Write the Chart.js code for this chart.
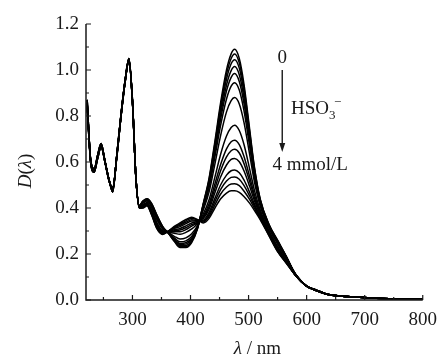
<!DOCTYPE html>
<html>
<head>
<meta charset="utf-8">
<script src="https://cdn.jsdelivr.net/npm/chart.js@4"></script>
<style>
  body { margin: 0; background: #fff; }
  canvas { display: block; }
</style>
</head>
<body>
<canvas id="chart" width="446" height="358"></canvas>
<script>
// =============================
// DATA
// =============================

// wavelength grid, nm
const wavelengths = [222, 228, 234, 240, 246, 253, 260, 266, 273, 280, 287, 294, 300, 306, 312, 318, 325, 333, 342, 352, 362, 372, 382, 392, 402, 412, 422, 432, 442, 452, 462, 470, 476, 484, 492, 502, 510, 520, 535, 550, 565, 580, 600, 615, 635, 670, 720, 800];

// absorbance D(λ), from 0 mmol/L HSO3- (top) down to 4 mmol/L
const d00 = [0.87, 0.61, 0.57, 0.63, 0.68, 0.60, 0.52, 0.47, 0.63, 0.80, 0.95, 1.05, 0.87, 0.53, 0.41, 0.43, 0.44, 0.42, 0.37, 0.32, 0.29, 0.255, 0.228, 0.228, 0.25, 0.31, 0.42, 0.53, 0.69, 0.86, 1.00, 1.07, 1.09, 1.05, 0.94, 0.74, 0.58, 0.44, 0.33, 0.26, 0.19, 0.115, 0.06, 0.045, 0.025, 0.015, 0.008, 0.003];
const d01 = [0.87, 0.61, 0.57, 0.63, 0.68, 0.60, 0.52, 0.47, 0.63, 0.80, 0.95, 1.05, 0.87, 0.53, 0.41, 0.43, 0.44, 0.418, 0.368, 0.319, 0.29, 0.257, 0.232, 0.232, 0.254, 0.311, 0.417, 0.524, 0.68, 0.846, 0.982, 1.05, 1.07, 1.031, 0.924, 0.729, 0.574, 0.437, 0.328, 0.258, 0.189, 0.115, 0.06, 0.045, 0.025, 0.015, 0.008, 0.003];
const d02 = [0.87, 0.61, 0.57, 0.63, 0.68, 0.60, 0.52, 0.47, 0.63, 0.80, 0.95, 1.05, 0.87, 0.53, 0.41, 0.428, 0.438, 0.416, 0.366, 0.317, 0.291, 0.26, 0.236, 0.237, 0.258, 0.313, 0.414, 0.517, 0.669, 0.829, 0.961, 1.027, 1.045, 1.008, 0.904, 0.717, 0.566, 0.433, 0.326, 0.256, 0.188, 0.115, 0.06, 0.045, 0.025, 0.015, 0.008, 0.003];
const d03 = [0.87, 0.61, 0.57, 0.63, 0.68, 0.60, 0.52, 0.47, 0.63, 0.80, 0.95, 1.05, 0.87, 0.53, 0.41, 0.426, 0.436, 0.414, 0.363, 0.316, 0.291, 0.263, 0.241, 0.243, 0.263, 0.315, 0.41, 0.509, 0.655, 0.809, 0.935, 0.997, 1.015, 0.979, 0.88, 0.701, 0.557, 0.429, 0.324, 0.254, 0.186, 0.115, 0.06, 0.045, 0.025, 0.015, 0.008, 0.003];
const d04 = [0.855, 0.605, 0.562, 0.622, 0.672, 0.598, 0.518, 0.48, 0.625, 0.795, 0.945, 1.045, 0.865, 0.53, 0.405, 0.425, 0.435, 0.411, 0.36, 0.314, 0.292, 0.266, 0.246, 0.249, 0.269, 0.317, 0.405, 0.50, 0.64, 0.788, 0.909, 0.968, 0.985, 0.95, 0.856, 0.685, 0.547, 0.425, 0.321, 0.251, 0.185, 0.115, 0.06, 0.045, 0.025, 0.015, 0.008, 0.003];
const d05 = [0.855, 0.605, 0.562, 0.622, 0.672, 0.598, 0.518, 0.48, 0.625, 0.795, 0.945, 1.045, 0.865, 0.53, 0.405, 0.423, 0.433, 0.408, 0.356, 0.312, 0.292, 0.27, 0.253, 0.257, 0.276, 0.319, 0.40, 0.489, 0.622, 0.761, 0.874, 0.93, 0.945, 0.913, 0.824, 0.665, 0.535, 0.419, 0.318, 0.248, 0.183, 0.115, 0.06, 0.045, 0.025, 0.015, 0.008, 0.003];
const d06 = [0.855, 0.605, 0.562, 0.622, 0.672, 0.598, 0.518, 0.48, 0.625, 0.795, 0.945, 1.045, 0.865, 0.53, 0.405, 0.42, 0.43, 0.403, 0.35, 0.308, 0.293, 0.277, 0.265, 0.27, 0.288, 0.324, 0.391, 0.47, 0.591, 0.717, 0.818, 0.867, 0.88, 0.852, 0.773, 0.631, 0.515, 0.409, 0.313, 0.243, 0.18, 0.115, 0.06, 0.045, 0.025, 0.015, 0.008, 0.003];
const d07 = [0.855, 0.605, 0.562, 0.622, 0.672, 0.598, 0.518, 0.48, 0.625, 0.795, 0.945, 1.045, 0.865, 0.53, 0.405, 0.414, 0.424, 0.393, 0.338, 0.301, 0.295, 0.29, 0.286, 0.294, 0.309, 0.332, 0.374, 0.436, 0.534, 0.635, 0.713, 0.75, 0.76, 0.737, 0.677, 0.568, 0.478, 0.392, 0.303, 0.233, 0.174, 0.115, 0.06, 0.045, 0.025, 0.015, 0.008, 0.003];
const d08 = [0.855, 0.605, 0.562, 0.622, 0.672, 0.598, 0.518, 0.48, 0.625, 0.795, 0.945, 1.045, 0.865, 0.53, 0.405, 0.411, 0.421, 0.388, 0.331, 0.298, 0.296, 0.297, 0.297, 0.306, 0.321, 0.336, 0.365, 0.418, 0.504, 0.59, 0.657, 0.688, 0.695, 0.676, 0.625, 0.535, 0.458, 0.382, 0.298, 0.228, 0.171, 0.11, 0.06, 0.042, 0.025, 0.015, 0.008, 0.003];
const d09 = [0.855, 0.605, 0.562, 0.622, 0.672, 0.598, 0.518, 0.48, 0.625, 0.795, 0.945, 1.045, 0.865, 0.53, 0.405, 0.409, 0.419, 0.385, 0.328, 0.295, 0.297, 0.301, 0.304, 0.314, 0.328, 0.338, 0.36, 0.406, 0.485, 0.563, 0.622, 0.649, 0.655, 0.639, 0.594, 0.514, 0.446, 0.376, 0.295, 0.225, 0.169, 0.11, 0.06, 0.042, 0.025, 0.015, 0.008, 0.003];
const d10 = [0.855, 0.605, 0.562, 0.622, 0.672, 0.598, 0.518, 0.48, 0.625, 0.795, 0.945, 1.045, 0.865, 0.53, 0.405, 0.407, 0.417, 0.381, 0.324, 0.293, 0.298, 0.305, 0.311, 0.322, 0.335, 0.341, 0.354, 0.395, 0.466, 0.536, 0.587, 0.611, 0.615, 0.601, 0.562, 0.493, 0.433, 0.371, 0.291, 0.221, 0.167, 0.11, 0.06, 0.042, 0.025, 0.015, 0.008, 0.003];
const d11 = [0.84, 0.60, 0.555, 0.615, 0.665, 0.595, 0.515, 0.49, 0.62, 0.79, 0.94, 1.04, 0.86, 0.53, 0.40, 0.404, 0.414, 0.377, 0.319, 0.29, 0.299, 0.311, 0.319, 0.332, 0.344, 0.344, 0.347, 0.381, 0.442, 0.501, 0.543, 0.562, 0.565, 0.553, 0.522, 0.467, 0.418, 0.363, 0.287, 0.217, 0.164, 0.11, 0.06, 0.042, 0.025, 0.015, 0.008, 0.003];
const d12 = [0.84, 0.60, 0.555, 0.615, 0.665, 0.595, 0.515, 0.49, 0.62, 0.79, 0.94, 1.04, 0.86, 0.53, 0.40, 0.403, 0.413, 0.375, 0.316, 0.288, 0.299, 0.314, 0.325, 0.338, 0.349, 0.346, 0.343, 0.372, 0.428, 0.481, 0.517, 0.533, 0.535, 0.525, 0.498, 0.451, 0.409, 0.359, 0.285, 0.215, 0.163, 0.11, 0.06, 0.042, 0.025, 0.015, 0.008, 0.003];
const d13 = [0.84, 0.60, 0.555, 0.615, 0.665, 0.595, 0.515, 0.49, 0.62, 0.79, 0.94, 1.04, 0.86, 0.53, 0.40, 0.401, 0.411, 0.372, 0.313, 0.287, 0.30, 0.317, 0.33, 0.344, 0.355, 0.348, 0.339, 0.364, 0.414, 0.461, 0.491, 0.504, 0.505, 0.497, 0.474, 0.436, 0.399, 0.354, 0.282, 0.212, 0.161, 0.11, 0.06, 0.042, 0.025, 0.015, 0.008, 0.003];
const d14 = [0.84, 0.60, 0.555, 0.615, 0.665, 0.595, 0.515, 0.49, 0.62, 0.79, 0.94, 1.04, 0.86, 0.53, 0.40, 0.40, 0.41, 0.37, 0.31, 0.285, 0.30, 0.32, 0.335, 0.35, 0.36, 0.35, 0.335, 0.355, 0.40, 0.44, 0.465, 0.475, 0.475, 0.468, 0.45, 0.42, 0.39, 0.35, 0.28, 0.21, 0.16, 0.11, 0.06, 0.042, 0.025, 0.015, 0.008, 0.003];

const spectra = [d00, d01, d02, d03, d04, d05, d06, d07, d08, d09, d10, d11, d12, d13, d14];

// axes
const xMajor = [300, 400, 500, 600, 700, 800];
const xMinor = [250, 350, 450, 550, 650, 750];
const yMajor = [0, 0.2, 0.4, 0.6, 0.8, 1.0, 1.2];
const yMinor = [0.1, 0.3, 0.5, 0.7, 0.9, 1.1];


// =============================
// DRAWING HELPERS
// =============================

const serif = '"Liberation Serif", "Times New Roman", serif';
const ink = '#1a1a1a';

function drawRich(ctx, parts, x, y) {
  let total = 0;
  parts.forEach(p => {
    ctx.font = p.font;
    total += ctx.measureText(p.text).width;
  });
  let cx = x - total / 2;
  parts.forEach(p => {
    ctx.font = p.font;
    ctx.fillText(p.text, cx, y + (p.dy || 0));
    cx += ctx.measureText(p.text).width;
  });
}

const decorPlugin = {
  id: 'decor',
  afterDraw(chart) {
    const { ctx, chartArea: a, scales: { x, y } } = chart;

    ctx.save();
    ctx.strokeStyle = ink;
    ctx.fillStyle = ink;
    ctx.lineWidth = 1.5;

    // axis lines, left and bottom only
    ctx.beginPath();
    ctx.moveTo(a.left, y.getPixelForValue(1.2));
    ctx.lineTo(a.left, a.bottom);
    ctx.lineTo(x.getPixelForValue(800), a.bottom);
    ctx.stroke();

    // inward ticks
    ctx.lineWidth = 1.2;
    ctx.beginPath();
    xMajor.forEach(v => {
      const px = x.getPixelForValue(v);
      ctx.moveTo(px, a.bottom);
      ctx.lineTo(px, a.bottom - 5);
    });
    xMinor.forEach(v => {
      const px = x.getPixelForValue(v);
      ctx.moveTo(px, a.bottom);
      ctx.lineTo(px, a.bottom - 3);
    });
    yMajor.forEach(v => {
      const py = y.getPixelForValue(v);
      ctx.moveTo(a.left, py);
      ctx.lineTo(a.left + 5, py);
    });
    yMinor.forEach(v => {
      const py = y.getPixelForValue(v);
      ctx.moveTo(a.left, py);
      ctx.lineTo(a.left + 3, py);
    });
    ctx.stroke();

    ctx.textAlign = 'left';
    ctx.textBaseline = 'middle';

    // axis titles
    drawRich(ctx, [
      { text: 'λ', font: 'italic 19px ' + serif },
      { text: ' / nm', font: '19px ' + serif }
    ], (a.left + a.right) / 2 + 3, a.bottom + 49);

    ctx.save();
    ctx.translate(a.left - 60, (a.top + a.bottom) / 2 + 9);
    ctx.rotate(-Math.PI / 2);
    drawRich(ctx, [
      { text: 'D', font: 'italic 19px ' + serif },
      { text: '(', font: '19px ' + serif },
      { text: 'λ', font: 'italic 19px ' + serif },
      { text: ')', font: '19px ' + serif }
    ], 0, 0);
    ctx.restore();

    // titration annotation
    const ax = x.getPixelForValue(558);
    drawRich(ctx, [{ text: '0', font: '19px ' + serif }], ax, y.getPixelForValue(1.052));

    ctx.lineWidth = 1.4;
    ctx.beginPath();
    ctx.moveTo(ax, y.getPixelForValue(1.0));
    ctx.lineTo(ax, y.getPixelForValue(0.67));
    ctx.stroke();
    const tip = y.getPixelForValue(0.643);
    ctx.beginPath();
    ctx.moveTo(ax, tip);
    ctx.lineTo(ax - 3, tip - 9);
    ctx.lineTo(ax + 3, tip - 9);
    ctx.closePath();
    ctx.fill();

    ctx.textAlign = 'left';
    const hx = x.getPixelForValue(573);
    const hy = y.getPixelForValue(0.83);
    ctx.font = '19px ' + serif;
    ctx.fillText('HSO', hx, hy);
    const hw = ctx.measureText('HSO').width;
    ctx.font = '13px ' + serif;
    ctx.fillText('3', hx + hw, hy + 6);
    ctx.fillText('−', hx + hw + 5, hy - 7);

    drawRich(ctx, [{ text: '4 mmol/L', font: '19px ' + serif }],
      x.getPixelForValue(606), y.getPixelForValue(0.585));

    ctx.restore();
  }
};


// =============================
// CHART
// =============================

const datasets = spectra.map(s => ({
  data: wavelengths.map((w, i) => ({ x: w, y: s[i] })),
  borderColor: '#000',
  borderWidth: 1.5,
  pointRadius: 0,
  fill: false,
  cubicInterpolationMode: 'monotone'
}));

new Chart(document.getElementById('chart'), {
  type: 'line',
  data: { datasets },
  options: {
    responsive: false,
    animation: false,
    events: [],
    layout: { padding: { top: 24, right: 15, left: 0, bottom: 0 } },
    plugins: {
      legend: { display: false },
      tooltip: { enabled: false }
    },
    scales: {
      x: {
        type: 'linear',
        min: 220,
        max: 800,
        afterBuildTicks: scale => {
          scale.ticks = xMajor.map(v => ({ value: v }));
        },
        afterFit: scale => { scale.height = 58; },
        grid: { display: false, drawTicks: false },
        border: { display: false },
        ticks: {
          color: ink,
          padding: 9,
          maxRotation: 0,
          font: { family: serif, size: 19 }
        }
      },
      y: {
        min: 0,
        max: 1.2,
        afterBuildTicks: scale => {
          scale.ticks = yMajor.map(v => ({ value: v }));
        },
        afterFit: scale => { scale.width = 86; },
        grid: { display: false, drawTicks: false },
        border: { display: false },
        ticks: {
          color: ink,
          padding: 7,
          font: { family: serif, size: 19 },
          callback: v => v.toFixed(1)
        }
      }
    }
  },
  plugins: [decorPlugin]
});
</script>
</body>
</html>
